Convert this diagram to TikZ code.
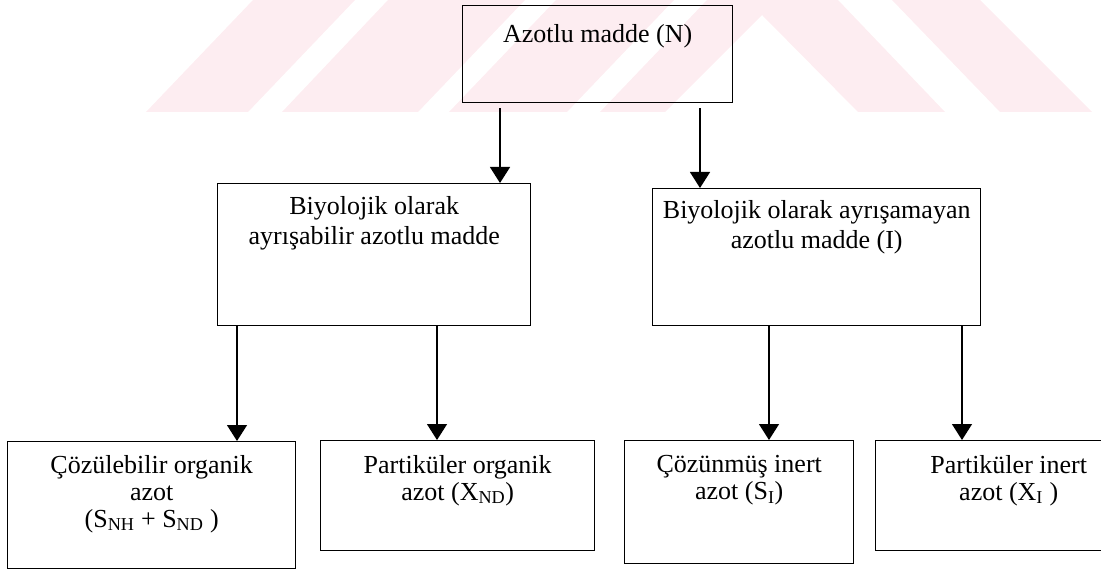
\documentclass[tikz,border=0pt]{standalone}
\usepackage{fontspec}
\setmainfont{Liberation Serif}
\usetikzlibrary{arrows.meta}
\definecolor{wmpink}{RGB}{253,237,241}
\tikzset{
  box/.style={draw, line width=1.4pt, rectangle, inner sep=0pt},
  lbl/.style={anchor=north, align=center, inner sep=0pt,
    font=\fontsize{26}{30}\selectfont},
  lblsm/.style={lbl, font=\fontsize{26}{27}\selectfont},
  arr/.style={line width=1.3pt, -{Triangle[width=20pt,length=16pt]}},
}
\newcommand{\boxat}[5]{% name, x1, y1, x2, y2
  \node[box, anchor=north west, minimum width=#4pt-#2pt, minimum height=#5pt-#3pt] (#1) at (#2,#3) {};}
\begin{document}
\begin{tikzpicture}[x=1pt,y=-1pt]
\useasboundingbox (0,0) rectangle (1101,572);
\clip (0,0) rectangle (1101,572);
% background stripes
\fill[wmpink] (146,112) -- (248,112) -- (355,0) -- (253,0) -- cycle;
\fill[wmpink] (282,112) -- (418,112) -- (525,0) -- (388,0) -- cycle;
\fill[wmpink] (449,112) -- (567,112) -- (674,0) -- (556,0) -- cycle;
\fill[wmpink] (600,112) -- (665,112) -- (762,15) -- (858,112) -- (945,112) -- (838,0) -- (707,0) -- cycle;
\fill[wmpink] (1000,112) -- (1092,112) -- (980,0) -- (892,0) -- cycle;

% boxes
\boxat{top}{462}{5}{732}{102}
\boxat{midL}{217}{183}{530}{325}
\boxat{midR}{652}{188}{980}{325}
\boxat{b1}{7}{441}{295}{568}
\boxat{b2}{320}{440}{594}{550}
\boxat{b3}{624}{440}{853}{563}
\boxat{b4}{875}{440}{1141}{550}

% texts
\node[lbl] (ttop) at ([yshift=-19pt]top.north) {Azotlu madde (N)};
\node[lbl] (tmidL) at ([yshift=-13pt]midL.north) {Biyolojik olarak\\ayrışabilir azotlu madde};
\node[lbl] (tmidR) at ([yshift=-12pt]midR.north) {Biyolojik olarak ayrışamayan\\azotlu madde (I)};
\node[lblsm] (tb1) at ([yshift=-14pt]b1.north) {Çözülebilir organik\\azot\\(S\textsubscript{NH} + S\textsubscript{ND} )};
\node[lblsm] (tb2) at ([yshift=-15pt]b2.north) {Partiküler organik\\azot (X\textsubscript{ND})};
\node[lblsm] (tb3) at ([yshift=-15pt]b3.north) {Çözünmüş inert\\azot (S\textsubscript{I})};
\node[lblsm] (tb4) at ([yshift=-15pt]b4.north) {Partiküler inert\\azot (X\textsubscript{I} )};

% connector columns
\coordinate (c1) at (500,0);
\coordinate (c2) at (700,0);
\coordinate (c3) at (237,0);
\coordinate (c4) at (437,0);
\coordinate (c5) at (769,0);
\coordinate (c6) at (962,0);

\draw[arr, shorten <=5pt] (c1 |- top.south) -- (c1 |- midL.north);
\draw[arr, shorten <=5pt] (c2 |- top.south) -- (c2 |- midR.north);
\draw[arr] (c3 |- midL.south) -- (c3 |- b1.north);
\draw[arr] (c4 |- midL.south) -- (c4 |- b2.north);
\draw[arr] (c5 |- midR.south) -- (c5 |- b3.north);
\draw[arr] (c6 |- midR.south) -- (c6 |- b4.north);
\end{tikzpicture}
\end{document}
